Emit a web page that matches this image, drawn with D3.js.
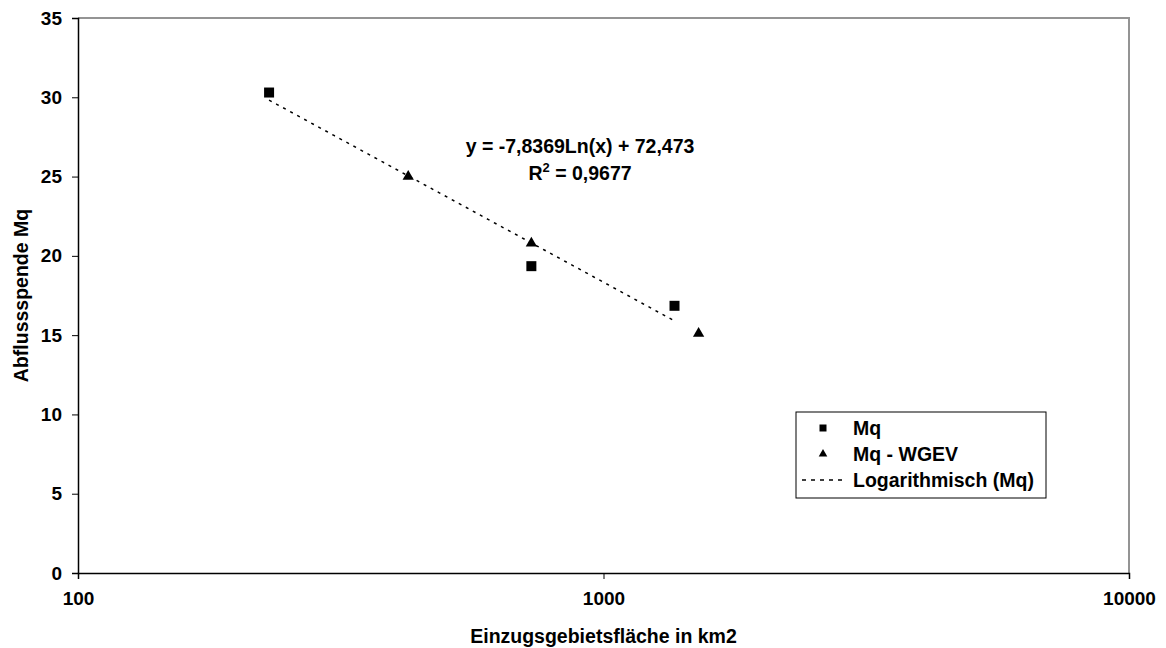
<!doctype html>
<html>
<head>
<meta charset="utf-8">
<title>Abflussspende Mq</title>
<script src="https://cdnjs.cloudflare.com/ajax/libs/d3/7.8.5/d3.min.js"></script>
<style>
body { margin:0; background:#fff; }
text { font-family: Arial, "Liberation Sans", sans-serif; font-weight:bold; fill:#000; }
</style>
</head>
<body>
<div id="chart"></div>
<script>
// Einzugsgebietsfläche (km2) und Abflussspende
var mqArea = [231, 729, 1365];
var mqValue = [30.3, 19.35, 16.85];
var wgevArea = [425, 729, 1517];
var wgevValue = [25.0, 20.8, 15.1];
var trendCoef = [-7.8369, 72.473];
var xTicks = [100, 1000, 10000];
var yTicks = [0, 5, 10, 15, 20, 25, 30, 35];
var legendNames = ["Mq", "Mq - WGEV", "Logarithmisch (Mq)"];

var width = 1166, height = 648;
var margin = {top: 18, right: 37, bottom: 75, left: 78};
var fontSize = "19.5px";

var svg = d3.select("#chart").append("svg")
	.attr("width", width).attr("height", height);

var x = d3.scaleLog().domain([100, 10000]).range([margin.left, width - margin.right]);
var y = d3.scaleLinear().domain([0, 35]).range([height - margin.bottom, margin.top]);

// grey frame top + right
svg.append("path")
	.attr("d", "M" + x(100) + "," + y(35) + "H" + x(10000) + "V" + y(0))
	.attr("fill", "none").attr("stroke", "#949494").attr("stroke-width", 2);

var xAxis = svg.append("g")
	.attr("transform", "translate(0," + y(0) + ")")
	.call(d3.axisBottom(x).tickValues(xTicks).tickFormat(d3.format("d")).tickSizeOuter(0).tickSize(6).tickPadding(13));
var yAxis = svg.append("g")
	.attr("transform", "translate(" + x(100) + ",0)")
	.call(d3.axisLeft(y).tickValues(yTicks).tickSizeOuter(0).tickSize(6).tickPadding(10));

[xAxis, yAxis].forEach(function(a) {
	a.select(".domain").attr("stroke", "#000").attr("stroke-width", 1.5);
	a.selectAll(".tick line").attr("stroke", "#000");
	a.selectAll("text").style("font-size", "19px").style("font-family", "Arial, 'Liberation Sans', sans-serif").style("font-weight", "bold");
});

// trendline
var trend = d3.range(0, 51).map(function(i) {
	var lx = Math.exp(Math.log(mqArea[0]) + (Math.log(mqArea[2]) - Math.log(mqArea[0])) * i / 50);
	return [lx, trendCoef[0] * Math.log(lx) + trendCoef[1]];
});
svg.append("path")
	.datum(trend)
	.attr("d", d3.line().x(function(d){return x(d[0]);}).y(function(d){return y(d[1]);}))
	.attr("fill", "none").attr("stroke", "#000").attr("stroke-width", 1.5)
	.attr("stroke-dasharray", "3,5");

var square = d3.symbol().type(d3.symbolSquare).size(100);
var tri = d3.symbol().type(d3.symbolTriangle).size(55);

svg.selectAll(".mq").data(mqArea).enter().append("path")
	.attr("d", square)
	.attr("transform", function(d, i){ return "translate(" + x(d) + "," + y(mqValue[i]) + ")"; })
	.attr("fill", "#000");
svg.selectAll(".wgev").data(wgevArea).enter().append("path")
	.attr("d", tri)
	.attr("transform", function(d, i){ return "translate(" + x(d) + "," + y(wgevValue[i]) + ")"; })
	.attr("fill", "#000");

// equation label
svg.append("text").attr("x", 580).attr("y", 153).attr("text-anchor", "middle").style("font-size", fontSize)
	.text("y = -7,8369Ln(x) + 72,473");
var r2 = svg.append("text").attr("x", 580).attr("y", 180).attr("text-anchor", "middle").style("font-size", fontSize);
r2.append("tspan").text("R");
r2.append("tspan").attr("dy", -8).style("font-size", "13px").text("2");
r2.append("tspan").attr("dy", 8).text(" = 0,9677");

// legend
var lg = svg.append("g").attr("transform", "translate(796,412)");
lg.append("rect").attr("width", 250).attr("height", 86)
	.attr("fill", "#fff").attr("stroke", "#000").attr("stroke-width", 1);
legendNames.forEach(function(name, i) {
	var cy = 16 + i * 26;
	if (i === 0) lg.append("path").attr("d", d3.symbol().type(d3.symbolSquare).size(49)).attr("transform", "translate(27," + cy + ")");
	if (i === 1) lg.append("path").attr("d", d3.symbol().type(d3.symbolTriangle).size(32)).attr("transform", "translate(27," + cy + ")");
	if (i === 2) lg.append("line").attr("x1", 6).attr("x2", 48).attr("y1", cy).attr("y2", cy)
		.attr("stroke", "#000").attr("stroke-width", 1.5).attr("stroke-dasharray", "4,5");
	lg.append("text").attr("x", 57).attr("y", cy + 7).style("font-size", fontSize).text(name);
});

// axis titles
svg.append("text").attr("x", x(1000)).attr("y", 643).attr("text-anchor", "middle").style("font-size", fontSize)
	.text("Einzugsgebietsfläche in km2");
svg.append("text").attr("transform", "translate(28," + ((y(0) + y(35)) / 2) + ") rotate(-90)")
	.attr("text-anchor", "middle").style("font-size", fontSize).text("Abflussspende Mq");
</script>
</body>
</html>
